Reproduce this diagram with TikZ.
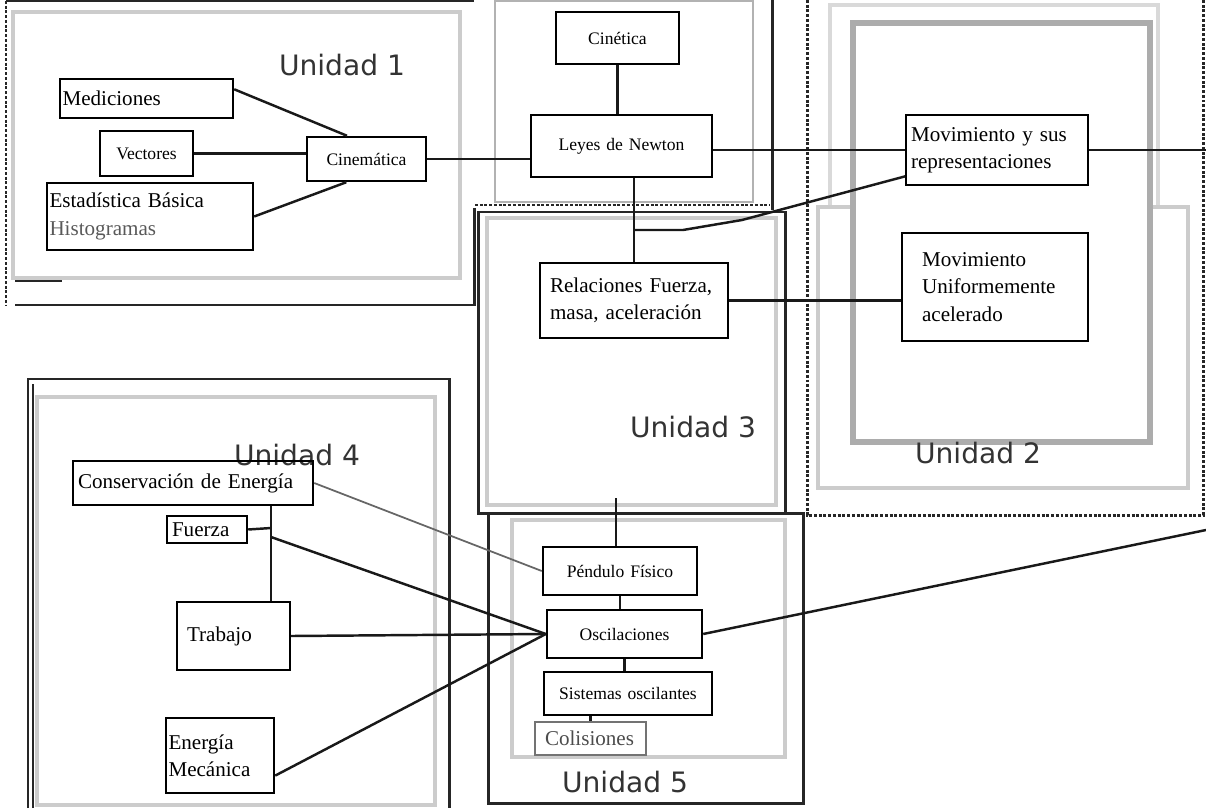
\documentclass[tikz,border=0pt]{standalone}
\usepackage{fontspec}
\setmainfont{Liberation Serif}
\newfontfamily\unitfont{DejaVu Sans}

\begin{document}
\begin{tikzpicture}[x=0.02cm,y=-0.02cm,
    concept/.style={draw,line width=1.4pt,inner xsep=0.1cm,inner ysep=0pt,align=left,
      font=\fontsize{12}{15.5}\selectfont},
    smallconcept/.style={concept,align=center,font=\fontsize{10}{12}\selectfont},
    unitlabel/.style={font=\unitfont\fontsize{16}{18}\selectfont,text=black!80},
    unitframe/.style={draw=black!85,line width=1.7pt},
    grayframe/.style={draw=gray!40,line width=2.6pt},
    link/.style={draw=black!90,line width=1.4pt}]
  \useasboundingbox (0,0) rectangle (1206,808);
  % frames of the units
  \draw[grayframe] (13,12) rectangle (460,278);
  \draw[unitframe,densely dotted] (6,1) -- (6,305);
  \draw[unitframe] (6,1) -- (474,1);
  \draw[unitframe] (15,305) -- (474,305) -- (474,208);
  \draw[unitframe] (15,281) -- (62,281);
  \draw[draw=gray!60,line width=1.2pt] (495,1) rectangle (753,202);
  \draw[unitframe,densely dotted] (475,205) -- (770,205);
  \draw[unitframe] (772,0) -- (772,210);
  \draw[unitframe] (478,212) rectangle (785,513);
  \draw[grayframe] (487,218) rectangle (776,505);
  \draw[unitframe,densely dotted] (807,0) -- (807,515) -- (1203,515) -- (1203,0);
  \draw[grayframe,draw=gray!30] (830,205) -- (830,5) -- (1158,5) -- (1158,205);
  \draw[grayframe] (818,207) rectangle (1188,488);
  \draw[draw=gray!65,line width=3.2pt,fill=white] (853,23) rectangle (1150,442);
  \draw[unitframe] (28,808) -- (28,379) -- (449,379) -- (449,808);
  \draw[unitframe,line width=0.8pt] (33,808) -- (33,384);
  \draw[grayframe] (37,397) rectangle (435,805);
  \draw[unitframe] (488,513) rectangle (803,803);
  \draw[grayframe] (512,520) rectangle (785,757);
  \draw
    (342,65) node[unitlabel] (u1){Unidad 1}
    (978,453) node[unitlabel] (u2){Unidad 2}
    (693,427) node[unitlabel] (u3){Unidad 3}
    (297,455) node[unitlabel] (u4){Unidad 4}
    (625,782) node[unitlabel] (u5){Unidad 5};
  \draw
    (146.5,98.5) node[concept,inner xsep=0.05cm,text width=3.36cm,minimum height=0.78cm] (0){Mediciones}
    (146.5,153.5) node[smallconcept,text width=1.66cm,minimum height=0.9cm] (1){Vectores}
    (150,216.5) node[concept,inner xsep=0.05cm,text width=4.02cm,minimum height=1.34cm] (2){Estadística Básica\\\textcolor{black!65}{Histogramas}}
    (366.5,159) node[smallconcept,text width=2.18cm,minimum height=0.88cm] (3){Cinemática}
    (617.5,38) node[smallconcept,text width=2.26cm,minimum height=1.04cm] (4){Cinética}
    (621.5,146) node[smallconcept,text width=3.42cm,minimum height=1.24cm] (5){Leyes de Newton}
    (997,150) node[concept,line width=1pt,text width=3.44cm,minimum height=1.4cm] (6){Movimiento y sus\\representaciones}
    (995,287) node[concept,inner xsep=0.4cm,text width=2.92cm,minimum height=2.16cm] (7){Movimiento\\Uniformemente\\acelerado}
    (634,300.5) node[concept,inner xsep=0.2cm,text width=3.36cm,minimum height=1.5cm] (8){Relaciones Fuerza,\\masa, aceleración}
    (193,483) node[concept,text width=4.6cm,minimum height=0.88cm] (9){Conservación de Energía}
    (207,529.5) node[concept,text width=1.4cm,minimum height=0.54cm] (10){Fuerza}
    (233.5,636) node[concept,inner xsep=0.2cm,text width=1.86cm,minimum height=1.36cm] (11){Trabajo}
    (220,755.5) node[concept,inner xsep=0.05cm,text width=2.06cm,minimum height=1.5cm] (12){Energía\\Mecánica}
    (620,571) node[smallconcept,text width=2.88cm,minimum height=0.96cm] (13){Péndulo Físico}
    (624.5,634) node[smallconcept,text width=2.9cm,minimum height=0.96cm] (14){Oscilaciones}
    (628,693.5) node[smallconcept,text width=3.16cm,minimum height=0.86cm] (15){Sistemas oscilantes}
    (590.5,738.5) node[concept,draw=black!55,text=black!70,inner xsep=0.2cm,text width=1.82cm,minimum height=0.66cm] (16){Colisiones};
  \coordinate (j) at (634,230);
  \coordinate (b1) at (742,220);
  \coordinate (b2) at (683,230);
  \coordinate (k) at (271,528);
  \coordinate (k2) at (271,537);
  \coordinate (e1) at (1206,150);
  \coordinate (e2) at (1206,530);
  \coordinate (e3) at (616,498);
  \begin{scope}[link]
    \draw (0.6) -- (3.130);
    \draw (1.east) -- (1.east -| 3.west);
    \draw (2.east) -- (3.229);
    \draw (3.east) -- (3.east -| 5.west);
    \draw (4.south) -- (4.south |- 5.north);
    \draw (6.west -| 5.east) -- (6.west);
    \draw (5.south -| 8.north) -- (8.north);
    \draw (6.196) -- (b1) -- (b2) -- (j);
    \draw (6.east) -- (e1);
    \draw (8.east) -- (8.east -| 7.west);
    \draw (9.south -| k) -- (11.north -| k);
    \draw (10.east) -- (k);
    \draw (k2) -- (14.west);
    \draw[draw=black!60,line width=1pt] (9.east) -- (13.west);
    \draw (11.east) -- (14.west);
    \draw (12.340) -- (14.west);
    \draw (14.east) -- (e2);
    \draw (e3) -- (e3 |- 13.north);
    \draw (13.south) -- (13.south |- 14.north);
    \draw (14.south) -- (14.south |- 15.north);
    \draw (16.north |- 15.south) -- (16.north);
  \end{scope}
\end{tikzpicture}
\end{document}
